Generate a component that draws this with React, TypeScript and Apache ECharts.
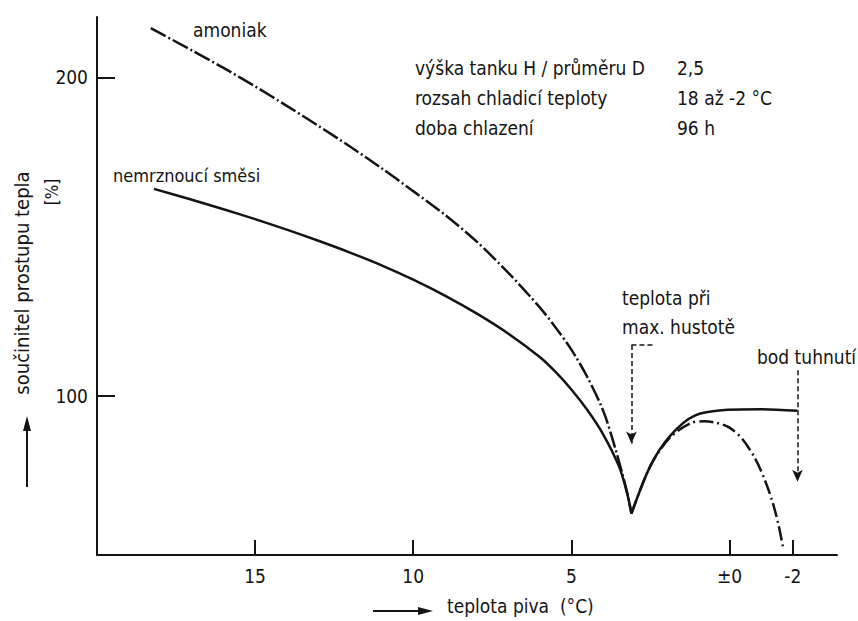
import { useEffect, useRef } from "react";
import * as echarts from "echarts";

const xTicks = [15, 10, 5, 0, -2];
const yTicks = [100, 200];

const ammoniaLeft = [
  [18.3, 215.5], [17, 208.5], [16, 203], [15, 197.2], [14, 191.1], [13, 184.8], [12, 178.3],
  [11, 171.5], [10, 164.3], [9, 156.9], [8, 148.5], [7, 138.7], [6, 127.8], [5.5, 121.5],
  [5, 114.5], [4.5, 106], [4, 95.5], [3.7, 86.5], [3.4, 76], [3.2, 68], [3.1, 63],
];
const ammoniaRight = [
  [3.1, 63], [2.5, 78], [1.87, 87], [1.2, 91.5], [0.79, 92], [0.4, 91.5], [0, 90],
  [-0.4, 86.5], [-0.8, 80.5], [-1.1, 74], [-1.35, 67], [-1.55, 59.5], [-1.7, 52],
];
const brineLeft = [
  [18.2, 165], [17, 161.6], [16, 158.6], [15, 155.5], [14, 152.2], [13, 148.7], [12, 145],
  [11, 141], [10, 136.5], [9, 131.5], [8, 125.9], [7, 119.6], [6, 112.2], [5.5, 107.5],
  [5, 102], [4.5, 95.6], [4, 88], [3.5, 78], [3.25, 70], [3.1, 63],
];
const brineRight = [
  [3.1, 63], [2.5, 78], [1.87, 87.5], [1.1, 93.8], [0.06, 95.6], [-1, 95.8], [-2.15, 95.3],
];

const densityArrow = [[3.1, 116], [3.1, 85]];
const densityBracket = [[3.1, 116], [2.4, 116]];
const freezeArrow = [[-2.15, 108], [-2.15, 73]];

const infoLabels = ["výška tanku H / průměru D", "rozsah chladicí teploty", "doba chlazení"];
const infoValues = ["2,5", "18 až -2 °C", "96 h"];

const FONT = '"DejaVu Sans Condensed", "DejaVu Sans", sans-serif';
const INK = "#141414";

function txt(text: string, x: number, y: number, size = 19, extra: any = {}) {
  return {
    type: "text",
    x,
    y,
    silent: true,
    ...extra,
    style: {
      text,
      font: `${size}px ${FONT}`,
      fill: INK,
      align: extra.align || "left",
      textAlign: extra.align || "left",
      verticalAlign: "middle",
      textVerticalAlign: "middle",
    },
  };
}

export default function App() {
  const ref = useRef<HTMLDivElement>(null);
  useEffect(() => {
    const chart = echarts.init(ref.current!, null, { renderer: "svg" });
    const lineBase = { type: "line", showSymbol: false, symbol: "none", silent: true, smooth: 0.3 };
    chart.setOption({
      animation: false,
      backgroundColor: "#fff",
      grid: { left: 97, right: 21, top: 17, bottom: 66, outerBoundsMode: "none" },
      xAxis: {
        type: "value",
        inverse: true,
        min: -3.4,
        max: 20,
        splitLine: { show: false },
        axisLine: { show: true, onZero: false, lineStyle: { color: INK, width: 2 } },
        axisTick: { show: true, inside: true, length: 15, customValues: xTicks, lineStyle: { color: INK, width: 2 } },
        axisLabel: {
          customValues: xTicks,
          margin: 11,
          color: INK,
          fontSize: 19,
          fontFamily: FONT,
          formatter: (v: number) => (v === 0 ? "±0" : String(v)),
        },
      },
      yAxis: {
        type: "value",
        min: 50,
        max: 219,
        splitLine: { show: false },
        axisLine: { show: true, onZero: false, lineStyle: { color: INK, width: 2 } },
        axisTick: { show: true, inside: true, length: 18, customValues: yTicks, lineStyle: { color: INK, width: 2 } },
        axisLabel: { customValues: yTicks, margin: 9, color: INK, fontSize: 19, fontFamily: FONT },
      },
      series: [
        { ...lineBase, name: "amoniak", data: ammoniaLeft, lineStyle: { color: INK, width: 2.5, type: [17, 3, 2, 3] } },
        { ...lineBase, name: "amoniak2", data: ammoniaRight, lineStyle: { color: INK, width: 2.5, type: [14, 4, 2, 4] } },
        { ...lineBase, name: "nemrznoucí směsi", data: brineLeft, lineStyle: { color: INK, width: 2.5 } },
        {
          ...lineBase,
          name: "nemrznoucí směsi2",
          data: brineRight,
          lineStyle: { color: INK, width: 2.5 },
          markLine: {
            silent: true,
            symbol: ["none", "arrow"],
            symbolSize: [8, 12],
            label: { show: false },
            lineStyle: { color: INK, width: 1.5, type: [5, 3] },
            data: [
              [{ coord: densityArrow[0] }, { coord: densityArrow[1] }],
              [{ coord: densityBracket[0], symbol: "none" }, { coord: densityBracket[1], symbol: "none" }],
              [{ coord: freezeArrow[0] }, { coord: freezeArrow[1] }],
            ],
          },
        },
      ],
      graphic: [
        txt("amoniak", 193, 30),
        txt("nemrznoucí směsi", 113, 175, 18),
        ...infoLabels.map((t, i) => txt(t, 415, 68 + i * 30)),
        ...infoValues.map((t, i) => txt(t, 677, 68 + i * 30)),
        txt("teplota při", 622, 298),
        txt("max. hustotě", 622, 327),
        txt("bod tuhnutí", 757, 357),
        txt("součinitel prostupu tepla", 22, 283, 20, { rotation: Math.PI / 2, align: "center" }),
        txt("[%]", 52, 192, 17, { rotation: Math.PI / 2, align: "center" }),
        txt("teplota piva  (°C)", 447, 606),
        { type: "line", silent: true, shape: { x1: 27, y1: 487, x2: 27, y2: 428 }, style: { stroke: INK, lineWidth: 2 } },
        { type: "polygon", silent: true, shape: { points: [[27, 416], [23, 431], [31, 431]] }, style: { fill: INK } },
        { type: "line", silent: true, shape: { x1: 373, y1: 611, x2: 420, y2: 611 }, style: { stroke: INK, lineWidth: 2 } },
        { type: "polygon", silent: true, shape: { points: [[433, 611], [418, 607], [418, 615]] }, style: { fill: INK } },
      ],
    });
    return () => chart.dispose();
  }, []);
  return (
    <div
      ref={ref}
      style={{ position: "absolute", left: 0, top: 0, width: 858, height: 621, background: "#fff" }}
    />
  );
}
